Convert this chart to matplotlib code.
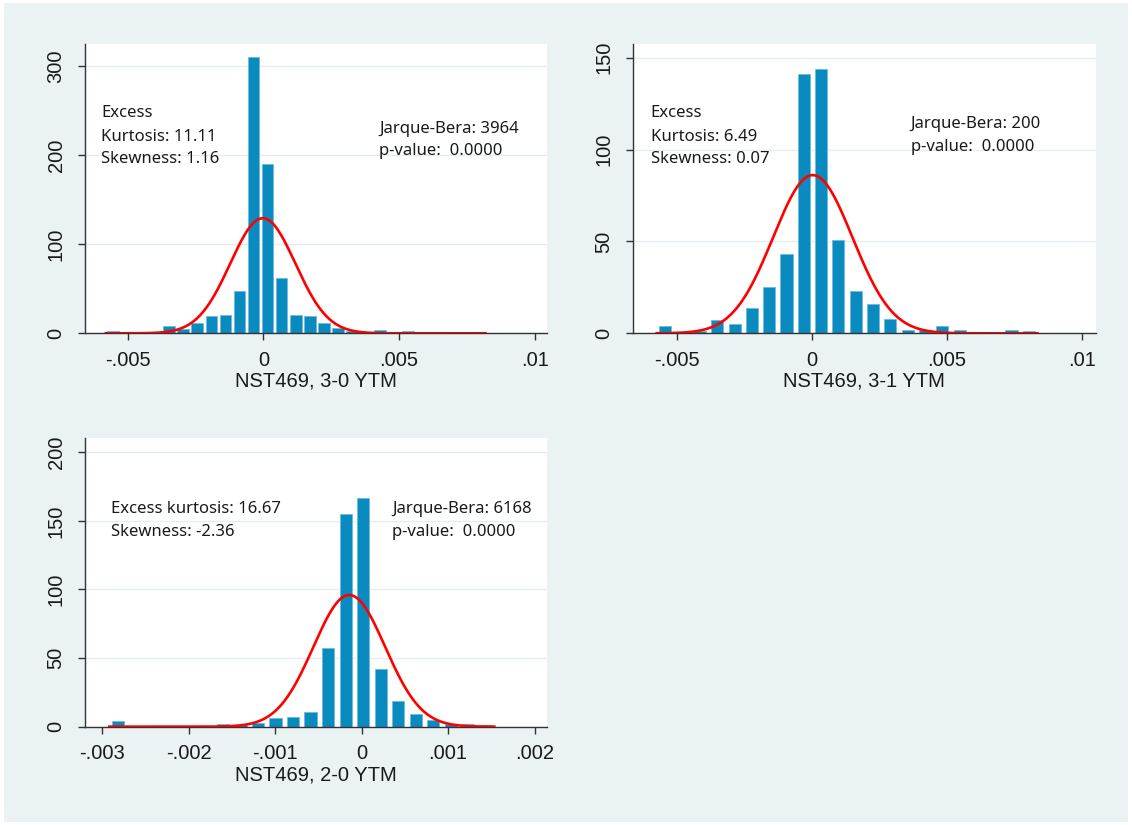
import numpy as np
import matplotlib
matplotlib.use("Agg")
import matplotlib.pyplot as plt
from matplotlib.patches import Rectangle

# histogram counts per bin
counts_30 = [3, 0, 1, 1, 8, 5, 11, 19, 21, 48, 310, 190, 62, 21, 19, 12, 6, 3, 1, 4,
             1, 3, 0, 0, 0, 0, 1]
counts_31 = [4, 0, 1, 7, 5, 14, 25, 43, 141, 144, 51, 23, 16, 8, 2, 2, 4, 2, 0, 0, 2, 1]
counts_20 = [4, 0, 0, 0, 0, 0, 2, 1, 3, 6, 7, 11, 57, 155, 167, 42, 19, 9, 5, 2, 2, 1]

# bin start and bin width (data units)
bins_30 = (-0.0058, 0.000518)
bins_31 = (-0.00574, 0.000641)
bins_20 = (-0.00292, 0.0002025)

# normal overlay: mean, sd
normal_30 = (-0.00002, 0.0012)
normal_31 = (0.00004, 0.00147)
normal_20 = (-0.000143, 0.000415)

xticks_30 = [-0.005, 0, 0.005, 0.01]
xticks_31 = [-0.005, 0, 0.005, 0.01]
xticks_20 = [-0.003, -0.002, -0.001, 0, 0.001, 0.002]
xlabels_30 = ['-.005', '0', '.005', '.01']
xlabels_31 = ['-.005', '0', '.005', '.01']
xlabels_20 = ['-.003', '-.002', '-.001', '0', '.001', '.002']
yticks_30 = [0, 100, 200, 300]
yticks_31 = [0, 50, 100, 150]
yticks_20 = [0, 50, 100, 150, 200]

titles = ['NST469, 3-0 YTM', 'NST469, 3-1 YTM', 'NST469, 2-0 YTM']
left_text = [['Excess', 'Kurtosis: 11.11', 'Skewness: 1.16'],
             ['Excess', 'Kurtosis: 6.49', 'Skewness: 0.07'],
             ['Excess kurtosis: 16.67', 'Skewness: -2.36']]
right_text = [['Jarque-Bera: 3964', 'p-value:  0.0000'],
              ['Jarque-Bera: 200', 'p-value:  0.0000'],
              ['Jarque-Bera: 6168', 'p-value:  0.0000']]

BG = '#eaf2f4'
BAR = '#0a8bbf'
AXC = '#333333'
TICKFONT = 'Liberation Sans'
NOTEFONT = 'Noto Sans'

fig = plt.figure(figsize=(11.32, 8.25), dpi=100, facecolor='white')
fig.patches.append(Rectangle((4 / 1132, 3 / 825), 1124 / 1132, 819 / 825,
                             transform=fig.transFigure, facecolor=BG,
                             edgecolor='none', zorder=-10))

panels = [
    dict(rect=[0.0751, 0.596, 0.4081, 0.3507], counts=counts_30, bins=bins_30,
         normal=normal_30, frac=0.83, xlim=(-0.00657, 0.01045), ylim=(0, 324.7),
         xticks=xticks_30, xlabels=xlabels_30, yticks=yticks_30,
         lx=0.035, ly=[0.7466, 0.6657, 0.5876], rx=0.637, ry=[0.6934, 0.6163]),
    dict(rect=[0.5589, 0.596, 0.4093, 0.3507], counts=counts_31, bins=bins_31,
         normal=normal_31, frac=0.70, xlim=(-0.00663, 0.01053), ylim=(0, 157.5),
         xticks=xticks_31, xlabels=xlabels_31, yticks=yticks_31,
         lx=0.039, ly=[0.7466, 0.6657, 0.5876], rx=0.600, ry=[0.7086, 0.630]),
    dict(rect=[0.0751, 0.1192, 0.4081, 0.3495], counts=counts_20, bins=bins_20,
         normal=normal_20, frac=0.69, xlim=(-0.0032, 0.002144), ylim=(0, 210.2),
         xticks=xticks_20, xlabels=xlabels_20, yticks=yticks_20,
         lx=0.0556, ly=[0.740, 0.661], rx=0.665, ry=[0.740, 0.661]),
]

for i, p in enumerate(panels):
    ax = fig.add_axes(p['rect'])
    ax.set_facecolor('white')
    counts = np.array(p['counts'], dtype=float)
    start, w = p['bins']
    centers = start + (np.arange(len(counts)) + 0.5) * w
    ax.bar(centers, counts, width=w * p['frac'], color=BAR,
           edgecolor='#6cbbe0', linewidth=0.6, zorder=2)

    # normal density scaled to frequency, over the data range
    mu, sd = p['normal']
    xs = np.linspace(start, start + len(counts) * w, 400)
    dens = counts.sum() * w * np.exp(-0.5 * ((xs - mu) / sd) ** 2) / (sd * np.sqrt(2 * np.pi))
    ax.plot(xs, dens, color='red', lw=1.9, zorder=3)

    ax.set_xlim(*p['xlim'])
    ax.set_ylim(*p['ylim'])
    ax.set_xticks(p['xticks'])
    ax.set_xticklabels(p['xlabels'])
    ax.set_yticks(p['yticks'])
    ax.set_yticklabels([str(t) for t in p['yticks']], rotation=90, va='center')
    for t in ax.get_xticklabels() + ax.get_yticklabels():
        t.set_fontfamily(TICKFONT)
        t.set_fontsize(14.5)
        t.set_color('#1a1a1a')
    ax.tick_params(axis='x', length=5, width=1, color=AXC, pad=7.5)
    ax.tick_params(axis='y', length=5, width=1, color=AXC, pad=9)
    ax.grid(axis='y', color='#e4edf1', lw=1, zorder=0)
    ax.set_axisbelow(True)
    for s in ['top', 'right']:
        ax.spines[s].set_visible(False)
    for s in ['left', 'bottom']:
        ax.spines[s].set_color(AXC)
        ax.spines[s].set_linewidth(1)
    ax.set_xlabel(titles[i], fontsize=14.5, fontfamily=TICKFONT, color='#1a1a1a',
                  labelpad=1.5)

    for line, y in zip(left_text[i], p['ly']):
        ax.text(p['lx'], y, line, transform=ax.transAxes, fontsize=12,
                fontfamily=NOTEFONT, color='#1a1a1a', va='baseline', ha='left')
    for line, y in zip(right_text[i], p['ry']):
        ax.text(p['rx'], y, line, transform=ax.transAxes, fontsize=12,
                fontfamily=NOTEFONT, color='#1a1a1a', va='baseline', ha='left')

fig.savefig('out.png', dpi=100, facecolor=fig.get_facecolor())
